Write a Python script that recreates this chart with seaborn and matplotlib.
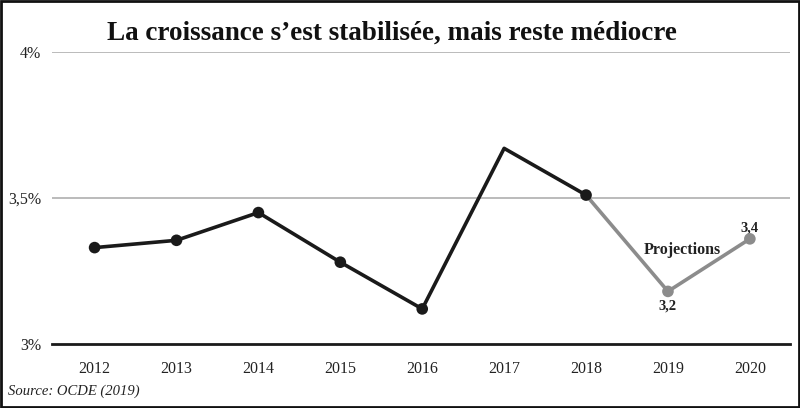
import matplotlib
matplotlib.use("Agg")
import matplotlib.pyplot as plt
import seaborn as sns
import pandas as pd

years = [2012, 2013, 2014, 2015, 2016, 2017, 2018, 2019, 2020]
growth = [3.33, 3.355, 3.45, 3.28, 3.12, 3.67, 3.51, 3.18, 3.36]
has_marker = [True, True, True, True, True, False, True, True, True]
is_projection = [False, False, False, False, False, False, False, True, True]
yticks = [3.0, 3.5, 4.0]
ytick_labels = ["3%", "3,5%", "4%"]
title = "La croissance s\u2019est stabilisée, mais reste médiocre"
source = "Source: OCDE (2019)"
proj_label = "Projections"
point_labels = {2019: "3,2", 2020: "3,4"}

sns.set_theme(style="white")
plt.rcParams["font.family"] = ["Liberation Serif", "DejaVu Serif"]

df = pd.DataFrame({"year": years, "growth": growth, "marker": has_marker, "proj": is_projection})
hist = df[~df["proj"]]
proj = pd.concat([df[df["year"] == 2018], df[df["proj"]]])

fig = plt.figure(figsize=(8, 4.08), dpi=100)
ax = fig.add_axes([0.065, 0.157, 0.9225, 0.7155])

black = "#1a1a1a"
grey = "#8c8c8c"
sns.lineplot(data=hist, x="year", y="growth", color=black, lw=2.6, ax=ax, zorder=3)
sns.lineplot(data=proj, x="year", y="growth", color=grey, lw=2.6, ax=ax, zorder=3)
mk = df[df["marker"]]
sns.scatterplot(data=mk[~mk["proj"]], x="year", y="growth", color=black, s=70, edgecolor="none", ax=ax, zorder=4)
sns.scatterplot(data=mk[mk["proj"]], x="year", y="growth", color=grey, s=70, edgecolor="none", ax=ax, zorder=4)

ax.set_xlim(2011.48, 2020.49)
ax.set_ylim(3.0, 4.0)
ax.set_yticks(yticks)
ax.set_yticklabels(ytick_labels)
ax.set_xticks(years)
ax.set_xticklabels([str(y) for y in years])
ax.set_xlabel("")
ax.set_ylabel("")
ax.tick_params(axis="both", length=0, labelsize=11.5, colors="#222222")
ax.tick_params(axis="y", pad=8)
ax.tick_params(axis="x", pad=12)
for y in yticks[1:]:
    ax.axhline(y, color="#b5b5b5", lw=1.3, zorder=1)
for s in ["top", "right", "left"]:
    ax.spines[s].set_visible(False)
ax.spines["bottom"].set_color("#1a1a1a")
ax.spines["bottom"].set_linewidth(2)
ax.set_clip_on(False)

d = dict(zip(years, growth))
ax.annotate(point_labels[2019], (2019, d[2019]), xytext=(0, -6), textcoords="offset points",
            ha="center", va="top", fontsize=10.5, fontweight="bold", color="#222222")
ax.annotate(point_labels[2020], (2020, d[2020]), xytext=(0, 3), textcoords="offset points",
            ha="center", va="bottom", fontsize=10.5, fontweight="bold", color="#222222")
ax.annotate(proj_label, (2019, d[2019]), xytext=(10, 30), textcoords="offset points",
            ha="center", va="center", fontsize=11.5, fontweight="bold", color="#222222")

fig.text(0.49, 0.918, title, ha="center", va="center", fontsize=19.5, fontweight="bold", color="#111111")
fig.text(0.01, 0.04, source, ha="left", va="center", fontsize=10.5, style="italic", color="#222222")

border = plt.Rectangle((0.0015, 0.003), 0.997, 0.994, transform=fig.transFigure, fill=False,
                       edgecolor="#111111", lw=2)
fig.patches.append(border)

fig.savefig("out.png", dpi=100)
